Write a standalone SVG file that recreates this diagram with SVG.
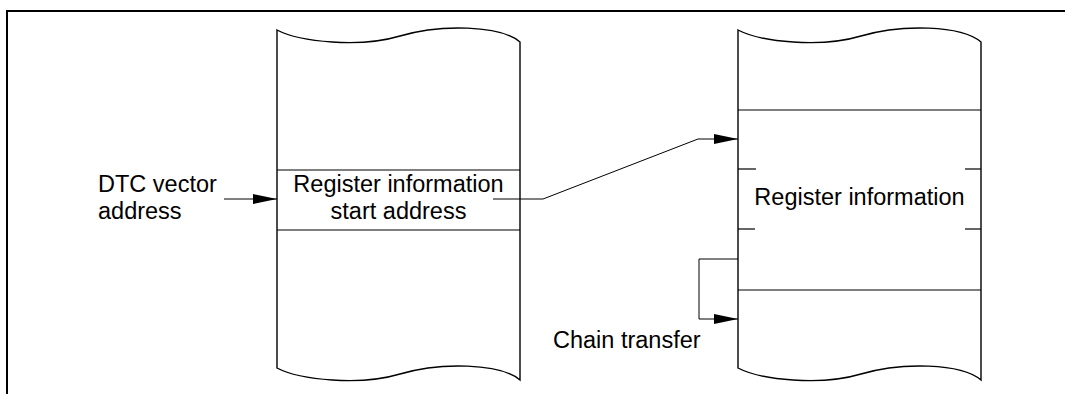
<svg xmlns="http://www.w3.org/2000/svg" width="1065" height="394" viewBox="0 0 1065 394">
<style>
.col{fill:#fff;stroke:#000;stroke-width:1.4}
.ln{stroke:#000;stroke-width:1.2;fill:none}
.cn{stroke:#000;stroke-width:1;fill:none}
.t{font-family:"Liberation Sans",Arial,sans-serif;font-size:23.5px;fill:#000}
.m{text-anchor:middle}
</style>
<defs>
<marker id="ah" markerUnits="userSpaceOnUse" markerWidth="24" markerHeight="12" refX="24" refY="6" orient="auto">
<path d="M0,1 L24,6 L0,11 Z" fill="#000"/>
</marker>
</defs>
<rect width="1065" height="394" fill="#fff"/>
<path d="M7,394 V11 H1065" fill="none" stroke="#000" stroke-width="2"/>
<g id="memory-left">
<path class="col" d="M277,30 C300,42 360,48 400,36 C440,24 500,25 520,42 V380 C500,363 440,362 400,374 C360,386 300,380 277,368 Z"/>
<line class="ln" x1="277" y1="170" x2="520" y2="170"/>
<line class="ln" x1="277" y1="230" x2="520" y2="230"/>
<text class="t m" x="398.5" y="191.5">Register information</text>
<text class="t m" x="398.5" y="219">start address</text>
</g>
<g id="memory-right">
<path class="col" d="M738,30 C761,42 821,48 861,36 C901,24 961,25 981,42 V380 C961,363 901,362 861,374 C821,386 761,380 738,368 Z"/>
<line class="ln" x1="738" y1="110" x2="981" y2="110"/>
<line class="ln" x1="738" y1="290" x2="981" y2="290"/>
<line class="ln" x1="738" y1="169" x2="756" y2="169"/>
<line class="ln" x1="965" y1="169" x2="981" y2="169"/>
<line class="ln" x1="738" y1="229" x2="755" y2="229"/>
<line class="ln" x1="965" y1="229" x2="981" y2="229"/>
<text class="t m" x="859.5" y="205">Register information</text>
</g>
<g id="label-dtc">
<text class="t" x="98" y="191.5">DTC vector</text>
<text class="t" x="98" y="219">address</text>
</g>
<g id="label-chain">
<text class="t" x="553" y="348">Chain transfer</text>
</g>
<g id="connectors">
<line class="cn" x1="224" y1="199" x2="277" y2="199" marker-end="url(#ah)"/>
<polyline class="cn" points="493,199 543,199 698,139 738,139" marker-end="url(#ah)"/>
<polyline class="cn" points="738,259 699,259 699,319 738,319" marker-end="url(#ah)"/>
</g>
</svg>
